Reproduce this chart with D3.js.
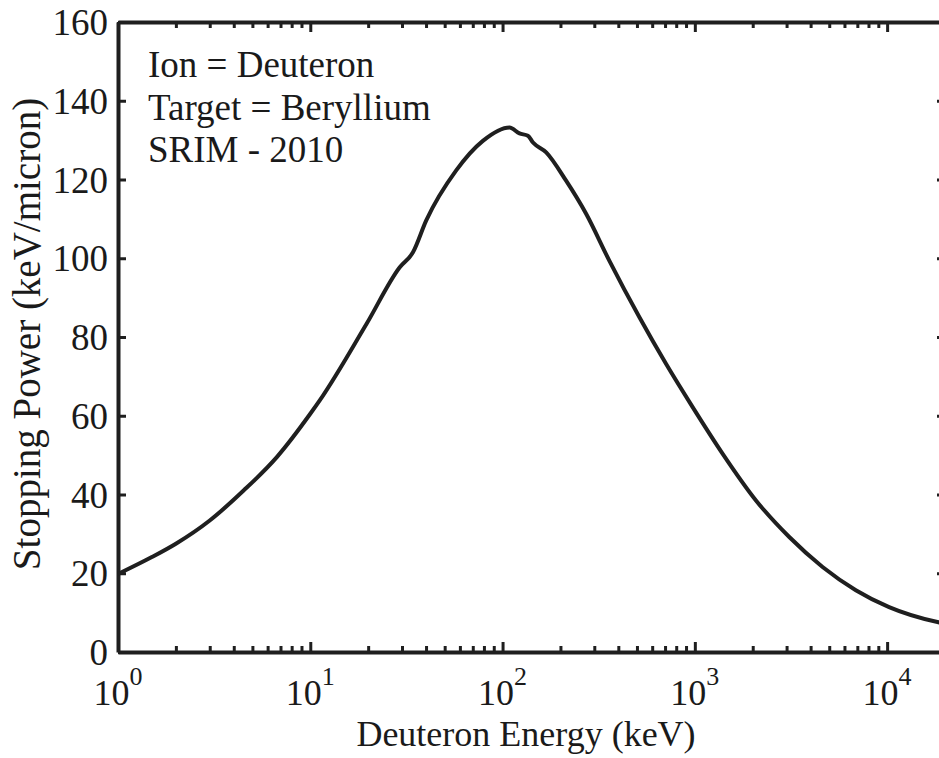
<!DOCTYPE html>
<html>
<head>
<meta charset="utf-8">
<script src="https://cdn.jsdelivr.net/npm/d3@7"></script>
<style>
  body { margin: 0; background: #fff; }
  svg { display: block; }
  .axis path, .axis line { stroke: #1f1f1f; }
  .axis path { stroke-width: 4; }
  .axis line { stroke-width: 3; }
  text { font-family: "Liberation Serif", "Times New Roman", serif; fill: #1a1a1a; }
</style>
</head>
<body>
<svg id="chart"></svg>
<script>
// Stopping power of deuterons in beryllium (SRIM 2010)
const energy = [1, 1.5, 2, 3, 4.5, 6.7, 10, 11.2, 19.6, 29.2, 34.2, 40.1, 57.4, 79,
  108.7, 122.5, 135.5, 144, 168.6, 214, 272, 359, 515, 708, 974, 1393, 2079,
  3098, 4616, 6875, 10240, 18270, 20000];
const stopping = [19.8, 24.1, 27.5, 33.4, 41, 49.5, 60.5, 63.9, 83.3, 97.7, 101.5, 109.6,
  122.3, 129.8, 133.2, 131.7, 131.1, 129.4, 126.9, 119.7, 111.3, 99.4, 85.0, 73.2,
  62.2, 50.4, 38.5, 29.2, 21.6, 15.7, 11.4, 7.6, 7.2];

const xMajor = [1, 10, 100, 1000, 10000];
const yTicks = [0, 20, 40, 60, 80, 100, 120, 140, 160];
const notes = ["Ion = Deuteron", "Target = Beryllium", "SRIM - 2010"];

const W = 939, H = 758;
const margin = {top: 22, right: -6, bottom: 106, left: 118};
const width = W - margin.left - margin.right;
const height = H - margin.top - margin.bottom;

const svg = d3.select("#chart")
  .attr("width", W)
  .attr("height", H);

const g = svg.append("g")
  .attr("transform", `translate(${margin.left}, ${margin.top})`);

const x = d3.scaleLog()
  .domain([1, 20000])
  .range([0, width]);

const y = d3.scaleLinear()
  .domain([0, 160])
  .range([height, 0]);

// minor + major ticks for the log axis
let xAll = [];
for (let e = 0; e <= 4; e++) {
  for (let m = 1; m <= 9; m++) {
    const v = m * Math.pow(10, e);
    if (v <= 20000) xAll.push(v);
  }
}
xAll.push(20000);

function xAxisGen(axisFn) {
  return axisFn(x)
    .tickValues(xAll)
    .tickFormat("")
    .tickSizeOuter(0)
    .tickSizeInner(-6);
}

// Bottom axis
const gx = g.append("g")
  .attr("class", "axis")
  .attr("transform", `translate(0, ${height})`)
  .call(xAxisGen(d3.axisBottom));

// Top axis
const gxTop = g.append("g")
  .attr("class", "axis")
  .call(xAxisGen(d3.axisTop));

// make decade ticks a bit longer
[gx, gxTop].forEach((ax, k) => {
  ax.selectAll(".tick line")
    .attr("y2", (d) => {
      const major = xMajor.includes(d);
      const len = major ? 10 : 6;
      return k === 0 ? -len : len;
    });
});

// Left axis
const gy = g.append("g")
  .attr("class", "axis")
  .call(d3.axisLeft(y)
    .tickValues(yTicks)
    .tickSizeInner(-8)
    .tickSizeOuter(0)
    .tickPadding(10));

gy.selectAll("text")
  .attr("font-size", "37px")
  .attr("dy", "0.34em")
  .style("fill", "#1a1a1a");

// Right axis (ticks only)
g.append("g")
  .attr("class", "axis")
  .attr("transform", `translate(${width}, 0)`)
  .call(d3.axisRight(y)
    .tickValues(yTicks)
    .tickSizeInner(-8)
    .tickSizeOuter(0)
    .tickFormat(""));

// x tick labels as 10^n
const xl = g.append("g")
  .selectAll("text")
  .data(xMajor)
  .enter()
  .append("text")
  .attr("x", (d) => x(d))
  .attr("y", height + 53)
  .attr("text-anchor", "middle")
  .attr("font-size", "36px");
xl.append("tspan").text("10");
xl.append("tspan")
  .attr("dy", -20)
  .attr("font-size", "26px")
  .text((d) => Math.round(Math.log10(d)));

// Curve
const line = d3.line()
  .x((d, i) => x(energy[i]))
  .y((d, i) => y(stopping[i]))
  .curve(d3.curveMonotoneX);

g.append("path")
  .datum(stopping)
  .attr("fill", "none")
  .attr("stroke", "#1f1f1f")
  .attr("stroke-width", 4)
  .attr("stroke-linejoin", "round")
  .attr("d", line);

// Annotation
g.append("g")
  .selectAll("text")
  .data(notes)
  .enter()
  .append("text")
  .attr("x", 30)
  .attr("y", (d, i) => 55 + i * 42.5)
  .attr("font-size", "37px")
  .text((d) => d);

// Axis titles
svg.append("text")
  .attr("x", 526)
  .attr("y", 746)
  .attr("text-anchor", "middle")
  .attr("font-size", "36px")
  .text("Deuteron Energy (keV)");

svg.append("text")
  .attr("transform", `translate(40, 334) rotate(-90)`)
  .attr("text-anchor", "middle")
  .attr("font-size", "39px")
  .text("Stopping Power (keV/micron)");
</script>
</body>
</html>
